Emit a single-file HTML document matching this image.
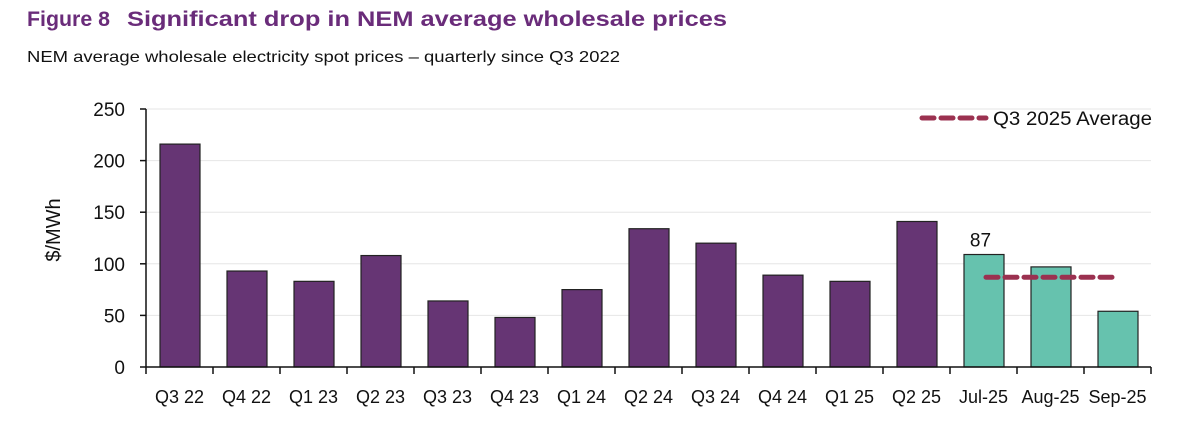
<!DOCTYPE html>
<html><head><meta charset="utf-8"><style>
body{margin:0;background:#fff;width:1200px;height:427px;overflow:hidden;font-family:"Liberation Sans",sans-serif;}
svg text{font-family:"Liberation Sans",sans-serif;}
</style></head><body>
<svg id="chart" width="1200" height="427" xmlns="http://www.w3.org/2000/svg">
<text x="27" y="26" font-size="21" font-weight="bold" fill="#6a2c7a" textLength="83" lengthAdjust="spacingAndGlyphs">Figure 8</text>
<text x="127" y="26" font-size="21" font-weight="bold" fill="#6a2c7a" textLength="600" lengthAdjust="spacingAndGlyphs">Significant drop in NEM average wholesale prices</text>
<text x="27" y="62" font-size="16" fill="#111" textLength="593" lengthAdjust="spacingAndGlyphs">NEM average wholesale electricity spot prices – quarterly since Q3 2022</text>
<text transform="translate(60,230) rotate(-90)" text-anchor="middle" font-size="20" fill="#111">$/MWh</text>
<g id="grid"></g><g id="bars"></g><g id="axes"></g>
<g>
<line x1="922" y1="118" x2="986" y2="118" stroke="#9b3150" stroke-width="5" stroke-dasharray="12,7" stroke-linecap="round"/>
<text x="993" y="125" font-size="19" fill="#111" textLength="159" lengthAdjust="spacingAndGlyphs">Q3 2025 Average</text>
</g>
</svg>
<script>
const categories=["Q3 22","Q4 22","Q1 23","Q2 23","Q3 23","Q4 23","Q1 24","Q2 24","Q3 24","Q4 24","Q1 25","Q2 25","Jul-25","Aug-25","Sep-25"];
const prices=[216,93,83,108,64,48,75,134,120,89,83,141,109,97,54];
const isMonthly=[0,0,0,0,0,0,0,0,0,0,0,0,1,1,1];
const yTicks=[0,50,100,150,200,250];
const q3Average=87;
const NS="http://www.w3.org/2000/svg";
const x0=146,slot=67,y0=367,yTop=109,yMax=250;
const yScale=v=>y0-(v/yMax)*(y0-yTop);
const xLeft=i=>x0+i*slot;
function mk(tag,attrs,parent){const e=document.createElementNS(NS,tag);for(const k in attrs)e.setAttribute(k,attrs[k]);parent.appendChild(e);return e;}
const grid=document.getElementById('grid'),bars=document.getElementById('bars'),axes=document.getElementById('axes');
const xEnd=x0+categories.length*slot;
yTicks.forEach(t=>{
  const y=yScale(t);
  if(t>0){const g=mk('line',{x1:x0,x2:xEnd,y1:y,y2:y,stroke:'#e6e6e6','stroke-width':1},grid);
  
  }
  const tk=mk('line',{x1:x0-6,x2:x0,y1:y,y2:y,stroke:'#111','stroke-width':1.5},axes);
  
  
  const tl=mk('text',{x:125,y:y+7,'text-anchor':'end','font-size':19,fill:'#111'},axes);
  tl.textContent=t;
  
  
});
categories.forEach((c,i)=>{
  const v=prices[i];
  const b=mk('rect',{x:xLeft(i)+14,y:yScale(v),width:40,height:y0-yScale(v),fill:isMonthly[i]?'#66c2ae':'#663574',stroke:'#222','stroke-width':1.2},bars);
  
  
  const tk=mk('line',{x1:xLeft(i+1),x2:xLeft(i+1),y1:y0,y2:y0+7,stroke:'#111','stroke-width':1.5},axes);
  
  
  const tl=mk('text',{x:xLeft(i)+slot/2,y:403,'text-anchor':'middle','font-size':18,fill:'#111'},axes);
  tl.textContent=c;
  
  
});
const t0=mk('line',{x1:x0,x2:x0,y1:y0,y2:y0+7,stroke:'#111','stroke-width':1.5},axes);


const ya=mk('line',{x1:x0,x2:x0,y1:yTop,y2:y0,stroke:'#111','stroke-width':1.5},axes);


const xa=mk('line',{x1:x0,x2:xEnd,y1:y0,y2:y0,stroke:'#111','stroke-width':1.5},axes);


const avgLine=mk('line',{x1:xLeft(12)+36,x2:xLeft(14)+34,y1:yScale(q3Average),y2:yScale(q3Average),stroke:'#9b3150','stroke-width':5,'stroke-dasharray':'12,7','stroke-linecap':'round'},axes);


const al=mk('text',{x:xLeft(12)+slot/2-3,y:yScale(prices[12])-8,'text-anchor':'middle','font-size':19,fill:'#111'},axes);
al.textContent=q3Average;


</script>
</body></html>
